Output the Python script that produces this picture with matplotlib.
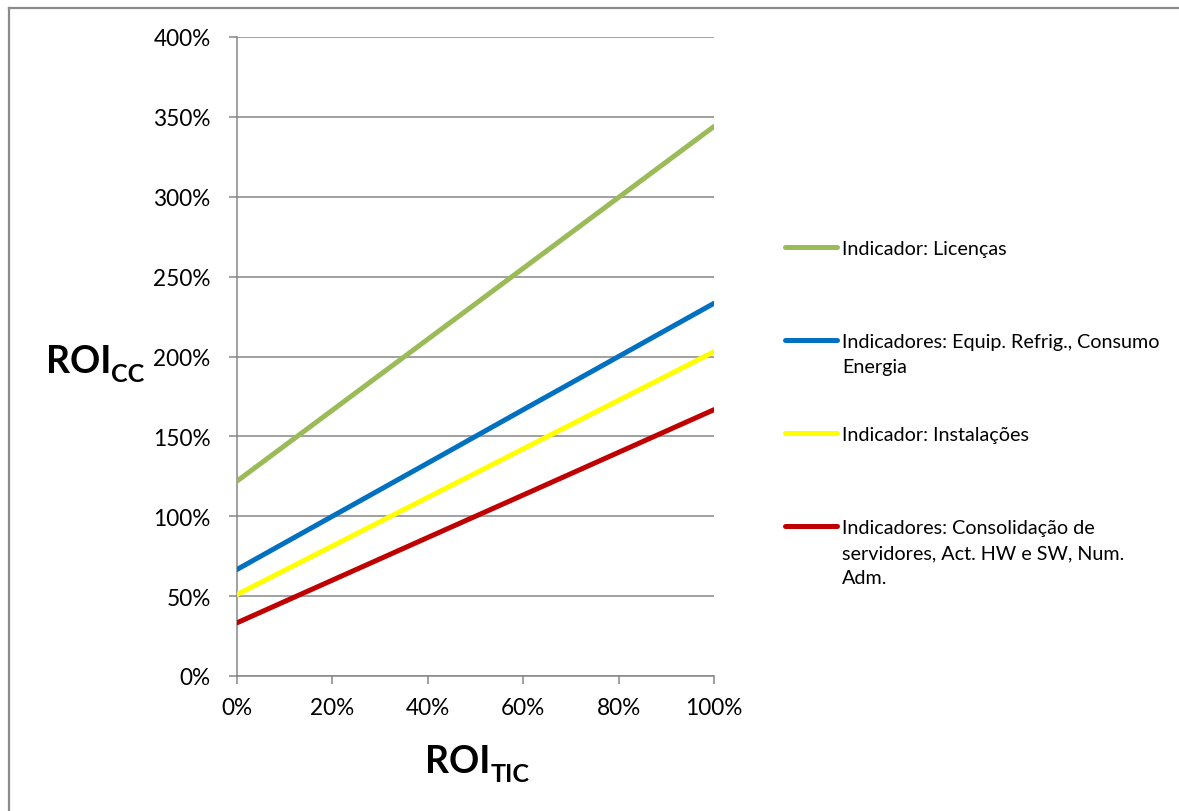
import matplotlib
matplotlib.use("Agg")
import matplotlib.pyplot as plt
from matplotlib.lines import Line2D
from matplotlib.ticker import PercentFormatter, MultipleLocator

# ROI_TIC values on the horizontal axis
roi_tic = [0.0, 0.2, 0.4, 0.6, 0.8, 1.0]

# ROI_CC for each group of indicators
licencas = [1.22, 1.664, 2.108, 2.552, 2.996, 3.44]
equip_energia = [0.667, 1.0, 1.333, 1.667, 2.0, 2.333]
instalacoes = [0.51, 0.814, 1.118, 1.422, 1.726, 2.03]
consolidacao = [0.333, 0.6, 0.867, 1.133, 1.4, 1.667]

series_labels = [
    "Indicador: Licenças",
    "Indicadores: Equip. Refrig., Consumo\nEnergia",
    "Indicador: Instalações",
    "Indicadores: Consolidação de\nservidores, Act. HW e SW, Num.\nAdm.",
]
series_values = [licencas, equip_energia, instalacoes, consolidacao]
series_colors = ["#9BBB59", "#0070C0", "#FFFF00", "#C00000"]

FONT = "Lato"
GRID = "#868686"
W, H = 1179, 812

plt.rcParams["font.family"] = [FONT, "DejaVu Sans"]

fig = plt.figure(figsize=(W / 100, H / 100), dpi=100)
fig.patch.set_facecolor("white")
ax = fig.add_axes([237 / W, 1 - 677 / H, (714 - 237) / W, (677 - 38) / H])

for vals, col in zip(series_values, series_colors):
    ax.plot(roi_tic, vals, color=col, lw=3.6, solid_capstyle="round",
            solid_joinstyle="round", zorder=3)

ax.set_xlim(0, 1)
ax.set_ylim(0, 4)
ax.xaxis.set_major_locator(MultipleLocator(0.2))
ax.yaxis.set_major_locator(MultipleLocator(0.5))
ax.xaxis.set_major_formatter(PercentFormatter(xmax=1, decimals=0))
ax.yaxis.set_major_formatter(PercentFormatter(xmax=1, decimals=0))
ax.grid(axis="y", color=GRID, lw=1.1)
ax.set_axisbelow(True)
for s in ("top", "right"):
    ax.spines[s].set_visible(False)
for s in ("left", "bottom"):
    ax.spines[s].set_color(GRID)
    ax.spines[s].set_linewidth(1.1)
ax.tick_params(axis="y", direction="out", length=6, width=1.1, color=GRID,
               pad=13, labelsize=16.3, labelcolor="black")
ax.tick_params(axis="x", direction="out", length=6, width=1.1, color=GRID,
               pad=9, labelsize=16.3, labelcolor="black")

# Axis titles with subscripts
def titled(x_px, y_px, main, sub):
    t = fig.text(x_px / W, 1 - y_px / H, main, fontsize=27, fontweight="bold",
                 va="baseline", ha="left")
    fig.canvas.draw()
    ax.annotate(sub, xy=(1.0, 1 - (y_px + 9) / H), xycoords=(t, "figure fraction"),
                fontsize=18, fontweight="bold", va="baseline", ha="left",
                annotation_clip=False)

titled(46, 373, "ROI", "CC")
titled(425, 773, "ROI", "TIC")

# Legend drawn on the right side of the figure
leg_y = [248, 341, 434, 527]
for y, lab, col in zip(leg_y, series_labels, series_colors):
    fig.add_artist(Line2D([785 / W, 837 / W], [1 - y / H, 1 - y / H],
                          transform=fig.transFigure, color=col, lw=3.6,
                          solid_capstyle="round"))
    for k, line in enumerate(lab.split("\n")):
        fig.text(842 / W, 1 - (y + 7 + 25 * k) / H, line, fontsize=14.2,
                 va="baseline", ha="left")

# Outer frame (left and top edges)
fig.add_artist(Line2D([8.5 / W, 8.5 / W], [0, 1 - 8.5 / H], transform=fig.transFigure,
                      color="#8a8a8a", lw=1.6))
fig.add_artist(Line2D([8.5 / W, 1], [1 - 8.5 / H, 1 - 8.5 / H], transform=fig.transFigure,
                      color="#8a8a8a", lw=1.6))

fig.savefig("out.png", dpi=100, facecolor="white")
